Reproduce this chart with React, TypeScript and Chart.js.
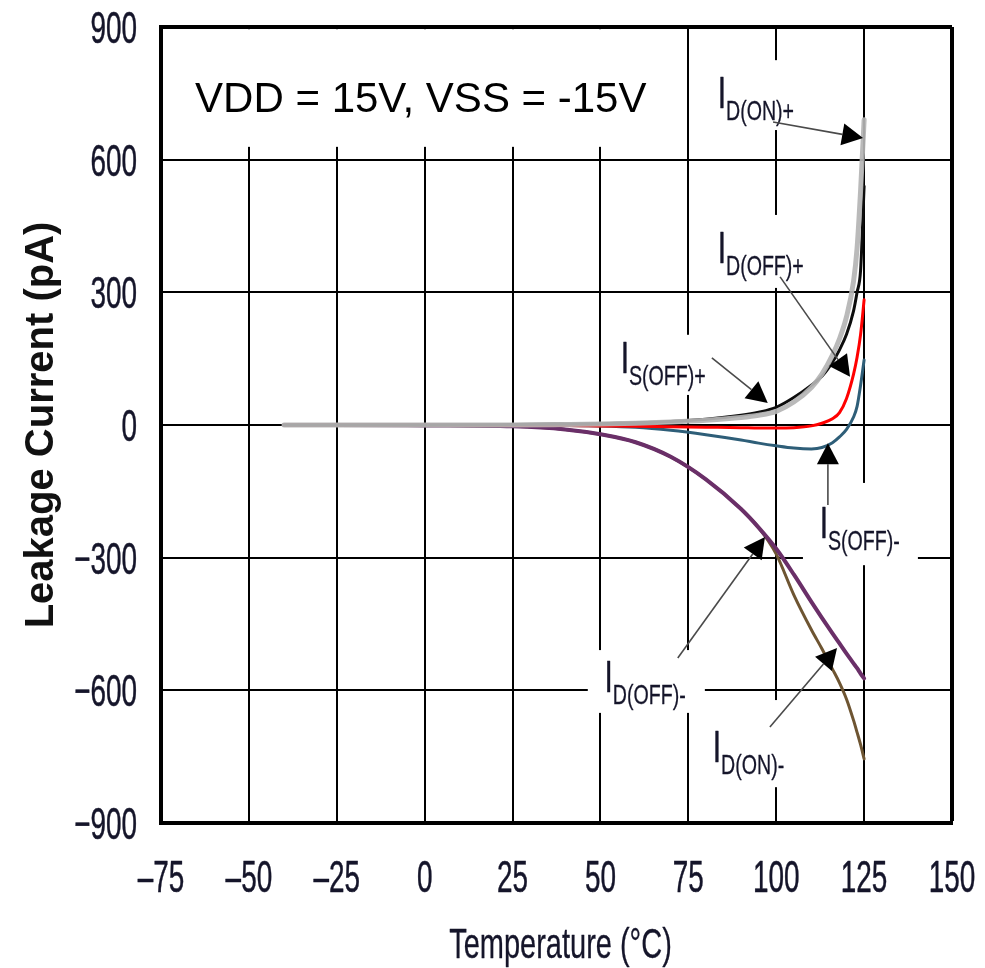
import React, { useEffect, useRef } from "react";
import { Chart, registerables } from "chart.js";

Chart.register(...registerables);

// ---------- data ----------
const temps = [-40, -25, 0, 25, 40, 50, 60, 70, 80, 90, 95, 100, 105, 110, 113, 116, 118, 120, 122, 123, 124, 125];
const idOnPlus = [0, 0, 0, 0, 1, 2, 4, 7, 11, 17, 22, 31, 52, 85, 115, 158, 195, 245, 325, 400, 530, 690];
const isOffPlus = [0, 0, 0, 1, 2, 3, 5, 8, 13, 22, 29, 40, 62, 90, 110, 142, 170, 205, 258, 300, 350, 540];
const idOffPlus = [0, 0, 0, -1, -1, -2, -3, -4, -5, -6, -7, -7, -6, -2, 4, 14, 28, 60, 115, 153, 205, 283];
const isOffMinus = [0, 0, 0, -1, -1, -2, -5, -12, -22, -34, -41, -47, -52, -54, -51, -40, -27, -10, 18, 42, 90, 147];
const idOffMinus = [0, 0, -1, -3, -10, -21, -39, -72, -123, -190, -232, -280, -338, -400, -436, -471, -494, -517, -539, -550, -562, -573];
const idOnMinus = [0, 0, -1, -3, -10, -21, -39, -72, -123, -190, -232, -292, -384, -463, -506, -552, -583, -620, -668, -695, -723, -755];

const xTickValues = [-75, -50, -25, 0, 25, 50, 75, 100, 125, 150];
const xTickLabels = ["\u201375", "\u201350", "\u201325", "0", "25", "50", "75", "100", "125", "150"];
const yTickValues = [-900, -600, -300, 0, 300, 600, 900];
const yTickLabels = ["\u2212900", "\u2212600", "\u2212300", "0", "300", "600", "900"];

const conditionText = "VDD = 15V, VSS = -15V";
const xTitle = "Temperature (\u00b0C)";
const yTitle = "Leakage Current (pA)";

// ---------- annotations (data-space anchors) ----------
const SANS = '"Liberation Sans", Arial, sans-serif';
const TEXT_COLOR = "#15152a";
const CONDENSE = 0.64;

const whiteBoxes = [
  { t0: -73.9, t1: 74.3, v0: 895, v1: 629 },
  { t0: 81.7, t1: 108.2, v0: 825, v1: 667 },
  { t0: 81.7, t1: 109, v0: 475, v1: 310 },
  { t0: 51.3, t1: 81.1, v0: 204, v1: 68 },
  { t0: 107.6, t1: 140.3, v0: -131, v1: -317 },
  { t0: 46.4, t1: 79.7, v0: -509, v1: -651 },
  { t0: 79.7, t1: 105.3, v0: -622, v1: -819 },
];

const labels = [
  { t: 84.0, v: 717, sub: "D(ON)+" },
  { t: 84.0, v: 366, sub: "D(OFF)+" },
  { t: 56.4, v: 118, sub: "S(OFF)+" },
  { t: 113.0, v: -256, sub: "S(OFF)-" },
  { t: 51.8, v: -604, sub: "D(OFF)-" },
  { t: 82.6, v: -762, sub: "D(ON)-" },
];

const arrows = [
  { t0: 99.1, v0: 685, t1: 124.7, v1: 649 },
  { t0: 101.1, v0: 335, t1: 121.0, v1: 109 },
  { t0: 81.7, v0: 152, t1: 97.6, v1: 50 },
  { t0: 114.7, v0: -181, t1: 114.7, v1: -41 },
  { t0: 72.0, v0: -527, t1: 96.8, v1: -253 },
  { t0: 98.2, v0: -683, t1: 117.3, v1: -504 },
];

function condensedText(
  ctx: CanvasRenderingContext2D,
  text: string,
  x: number,
  y: number,
  align: CanvasTextAlign,
  sx: number,
  thicken = 0
) {
  ctx.save();
  ctx.translate(x, y);
  ctx.scale(sx, 1);
  ctx.textAlign = align;
  ctx.textBaseline = "alphabetic";
  ctx.fillText(text, 0, 0);
  if (thicken > 0) {
    ctx.strokeStyle = ctx.fillStyle as string;
    ctx.lineWidth = thicken;
    ctx.lineJoin = "round";
    ctx.strokeText(text, 0, 0);
  }
  ctx.restore();
}

function drawArrow(ctx: CanvasRenderingContext2D, x1: number, y1: number, x2: number, y2: number) {
  const a = Math.atan2(y2 - y1, x2 - x1);
  const L = 21;
  const W = 11;
  const c = Math.cos(a);
  const s = Math.sin(a);
  const bx = x2 - L * c;
  const by = y2 - L * s;
  ctx.strokeStyle = "#4a4a4a";
  ctx.lineWidth = 1.6;
  ctx.beginPath();
  ctx.moveTo(x1, y1);
  ctx.lineTo(bx, by);
  ctx.stroke();
  ctx.fillStyle = "#000";
  ctx.beginPath();
  ctx.moveTo(x2, y2);
  ctx.lineTo(bx + W * s, by - W * c);
  ctx.lineTo(bx - W * s, by + W * c);
  ctx.closePath();
  ctx.fill();
}

const annotationPlugin = {
  id: "annots",
  beforeDatasetsDraw(chart: any) {
    const { ctx, scales } = chart;
    const xs = scales.x;
    const ys = scales.y;
    ctx.save();
    ctx.fillStyle = "#ffffff";
    for (const b of whiteBoxes) {
      const x0 = xs.getPixelForValue(b.t0);
      const x1 = xs.getPixelForValue(b.t1);
      const y0 = ys.getPixelForValue(b.v0);
      const y1 = ys.getPixelForValue(b.v1);
      ctx.fillRect(x0, y0, x1 - x0, y1 - y0);
    }
    ctx.restore();
  },
  afterDatasetsDraw(chart: any) {
    const { ctx, scales, chartArea } = chart;
    const xs = scales.x;
    const ys = scales.y;
    ctx.save();

    // condition text
    ctx.fillStyle = "#000";
    ctx.textAlign = "left";
    ctx.textBaseline = "alphabetic";
    ctx.font = `42px ${SANS}`;
    ctx.fillText(conditionText, xs.getPixelForValue(-65.3), ys.getPixelForValue(708));

    // curve labels
    for (const l of labels) {
      const px = xs.getPixelForValue(l.t);
      const py = ys.getPixelForValue(l.v);
      ctx.fillStyle = TEXT_COLOR;
      ctx.font = `44px ${SANS}`;
      condensedText(ctx, "I", px - 2, py, "left", CONDENSE, 0.7);
      ctx.font = `28px ${SANS}`;
      condensedText(ctx, l.sub, px + 6, py + 12, "left", 0.7, 0.3);
    }
    for (const a of arrows) {
      drawArrow(
        ctx,
        xs.getPixelForValue(a.t0),
        ys.getPixelForValue(a.v0),
        xs.getPixelForValue(a.t1),
        ys.getPixelForValue(a.v1)
      );
    }

    // tick labels (condensed, positioned from the library's scales)
    ctx.fillStyle = TEXT_COLOR;
    ctx.font = `45px ${SANS}`;
    xTickValues.forEach((v, i) => {
      condensedText(ctx, xTickLabels[i], xs.getPixelForValue(v), chartArea.bottom + 69, "center", 0.62, 0.5);
    });
    yTickValues.forEach((v, i) => {
      condensedText(ctx, yTickLabels[i], chartArea.left - 24, ys.getPixelForValue(v) + 16, "right", 0.62, 0.5);
    });

    // x axis title
    ctx.font = `42px ${SANS}`;
    condensedText(ctx, xTitle, (chartArea.left + chartArea.right) / 2 + 4, 958, "center", 0.69, 0.3);
    ctx.restore();
  },
};

function series(values: number[]) {
  return temps.map((t, i) => ({ x: t, y: values[i] }));
}

export default function App() {
  const ref = useRef<HTMLCanvasElement | null>(null);

  useEffect(() => {
    document.body.style.margin = "0";
    const canvas = ref.current;
    if (!canvas) return;
    const common = {
      pointRadius: 0,
      cubicInterpolationMode: "monotone" as const,
      fill: false,
      borderJoinStyle: "round" as const,
      borderCapStyle: "round" as const,
    };
    const chart = new Chart(canvas, {
      type: "line",
      data: {
        datasets: [
          { ...common, label: "ID(ON)+", data: series(idOnPlus), borderColor: "rgba(180,180,180,0.92)", borderWidth: 5 },
          { ...common, label: "IS(OFF)+", data: series(isOffPlus), borderColor: "#0d0d0d", borderWidth: 3 },
          { ...common, label: "ID(OFF)+", data: series(idOffPlus), borderColor: "#ff0000", borderWidth: 3 },
          { ...common, label: "IS(OFF)-", data: series(isOffMinus), borderColor: "#2e5e78", borderWidth: 3 },
          { ...common, label: "ID(OFF)-", data: series(idOffMinus), borderColor: "#6a2f68", borderWidth: 4 },
          { ...common, label: "ID(ON)-", data: series(idOnMinus), borderColor: "#6e5532", borderWidth: 3 },
        ],
      },
      options: {
        animation: false,
        responsive: false,
        maintainAspectRatio: false,
        devicePixelRatio: 1,
        layout: { padding: { top: 27, right: 33, left: 0, bottom: 0 } },
        plugins: { legend: { display: false }, tooltip: { enabled: false } },
        scales: {
          x: {
            type: "linear",
            min: -75,
            max: 150,
            afterFit: (s: any) => {
              s.height = 145;
            },
            afterBuildTicks: (s: any) => {
              s.ticks = xTickValues.map((v) => ({ value: v }));
            },
            ticks: { display: false },
            grid: {
              color: "#000",
              lineWidth: (c: any) => (c.tick && c.tick.value === 150 ? 4 : 2),
              drawTicks: false,
            },
            border: { display: true, color: "#000", width: 4 },
            title: { display: false, text: xTitle },
          },
          y: {
            type: "linear",
            min: -900,
            max: 900,
            afterFit: (s: any) => {
              s.width = 161;
            },
            afterBuildTicks: (s: any) => {
              s.ticks = yTickValues.map((v) => ({ value: v }));
            },
            ticks: { display: false },
            grid: {
              color: "#000",
              lineWidth: (c: any) => (c.tick && c.tick.value === 900 ? 4 : 2),
              drawTicks: false,
            },
            border: { display: true, color: "#000", width: 4 },
            title: {
              display: true,
              text: yTitle,
              color: "#111",
              font: { family: SANS, size: 40, weight: "bold" },
              padding: { top: 18, bottom: 0 },
            },
          },
        },
      },
      plugins: [annotationPlugin],
    });
    return () => chart.destroy();
  }, []);

  return (
    <canvas
      ref={ref}
      width={985}
      height={968}
      style={{ display: "block", width: "985px", height: "968px" }}
    />
  );
}
